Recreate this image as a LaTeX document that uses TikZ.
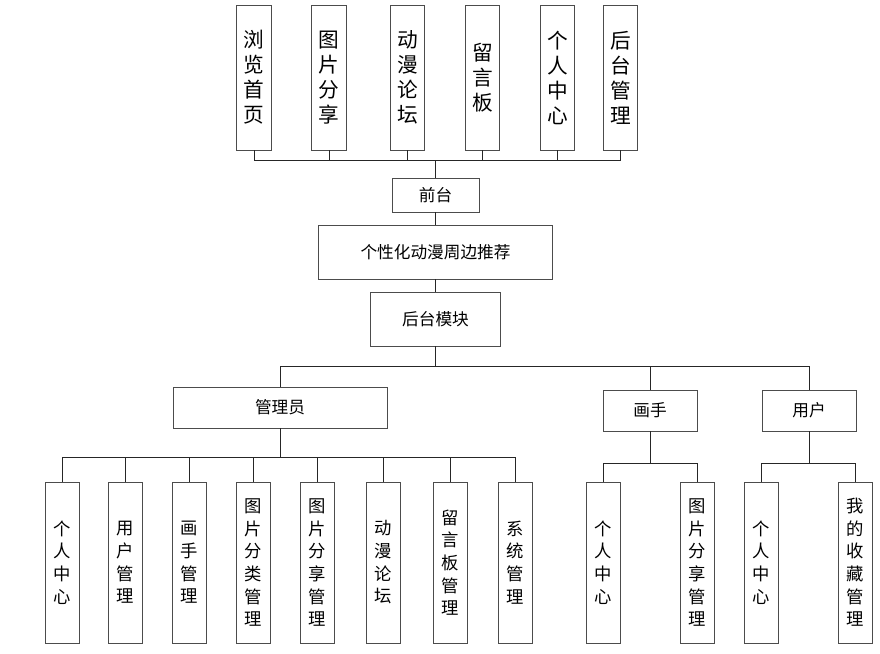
\documentclass[tikz,border=0pt]{standalone}
\usepackage{fontspec}
\setmainfont{Noto Sans CJK SC}
\usetikzlibrary{positioning}

\begin{document}
\begin{tikzpicture}[x=0.75pt, y=-0.75pt,
    topbox/.style={draw=black!70, line width=0.7pt, fill=white, minimum width=26pt, minimum height=108.75pt,
                   inner sep=0pt, align=center, font=\fontsize{15.5}{18.75}\selectfont},
    subbox/.style={draw=black!70, line width=0.7pt, fill=white, minimum width=25.5pt, minimum height=120.75pt,
                   inner sep=0pt, align=center, font=\fontsize{13}{17}\selectfont},
    hbox/.style={draw=black!70, line width=0.7pt, fill=white, inner sep=0pt, minimum height=30.75pt,
                 font=\fontsize{12.5}{15}\selectfont},
    link/.style={draw=black!85, line width=0.6pt}]
    \useasboundingbox (0,0) rectangle (880,653);

    % bus levels
    \coordinate (bus-top)   at (0,160);
    \coordinate (bus-mid)   at (0,366);
    \coordinate (bus-admin) at (0,457);
    \coordinate (bus-side)  at (0,463);

    % front-end pages (top row)
    \foreach \x/\i/\t in {254/1/{浏\\览\\首\\页}, 329/2/{图\\片\\分\\享}, 407.5/3/{动\\漫\\论\\坛},
                          482.5/4/{留\\言\\板}, 557.5/5/{个\\人\\中\\心}, 620.5/6/{后\\台\\管\\理}} {
        \node[topbox] (t-\i) at (\x,77.5) {\t};
    }

    % main chain
    \node[hbox, minimum width=65.25pt, minimum height=25.5pt] (front) at (435.5,195) {前台};
    \node[hbox, minimum width=175.5pt, minimum height=40.5pt] (recom) at (435.5,252) {个性化动漫周边推荐};
    \node[hbox, minimum width=97.5pt, minimum height=40.5pt] (back) at (435.5,319) {后台模块};

    \foreach \i in {1,...,6} {
        \draw[link] (t-\i.south) -- (t-\i.south |- bus-top) -- (front.north |- bus-top);
    }
    \draw[link] (front.north |- bus-top) -- (front.north);
    \draw[link] (front.south) -- (recom.north);
    \draw[link] (recom.south) -- (back.north);

    % roles
    \node[hbox, minimum width=160.5pt] (admin) at (280,407.5) {管理员};
    \node[hbox, minimum width=70.5pt] (painter) at (650,410.5) {画手};
    \node[hbox, minimum width=70.5pt] (user) at (809,410.5) {用户};

    \draw[link] (back.south) -- (back.south |- bus-mid);
    \draw[link] (admin.north) -- (admin.north |- bus-mid) -- (user.north |- bus-mid) -- (user.north);
    \draw[link] (painter.north) -- (painter.north |- bus-mid);

    % admin functions
    \foreach \x/\n/\t in {62/a1/{个\\人\\中\\心}, 125.5/a2/{用\\户\\管\\理}, 189.5/a3/{画\\手\\管\\理},
                          253.5/a4/{图\\片\\分\\类\\管\\理}, 317.5/a5/{图\\片\\分\\享\\管\\理},
                          383/a6/{动\\漫\\论\\坛}, 450/a7/{留\\言\\板\\管\\理}, 515.5/a8/{系\\统\\管\\理}} {
        \node[subbox] (\n) at (\x,562.5) {\t};
        \draw[link] (\n.north) -- (\n.north |- bus-admin) -- (admin.south |- bus-admin);
    }
    \draw[link] (admin.south) -- (admin.south |- bus-admin);

    % painter and user functions
    \foreach \x/\n/\t/\p in {603.5/p1/{个\\人\\中\\心}/painter, 697/p2/{图\\片\\分\\享\\管\\理}/painter,
                             761.5/u1/{个\\人\\中\\心}/user, 855.5/u2/{我\\的\\收\\藏\\管\\理}/user} {
        \node[subbox] (\n) at (\x,562.5) {\t};
        \draw[link] (\n.north) -- (\n.north |- bus-side) -- (\p.south |- bus-side);
    }
    \draw[link] (painter.south) -- (painter.south |- bus-side);
    \draw[link] (user.south) -- (user.south |- bus-side);
\end{tikzpicture}
\end{document}
